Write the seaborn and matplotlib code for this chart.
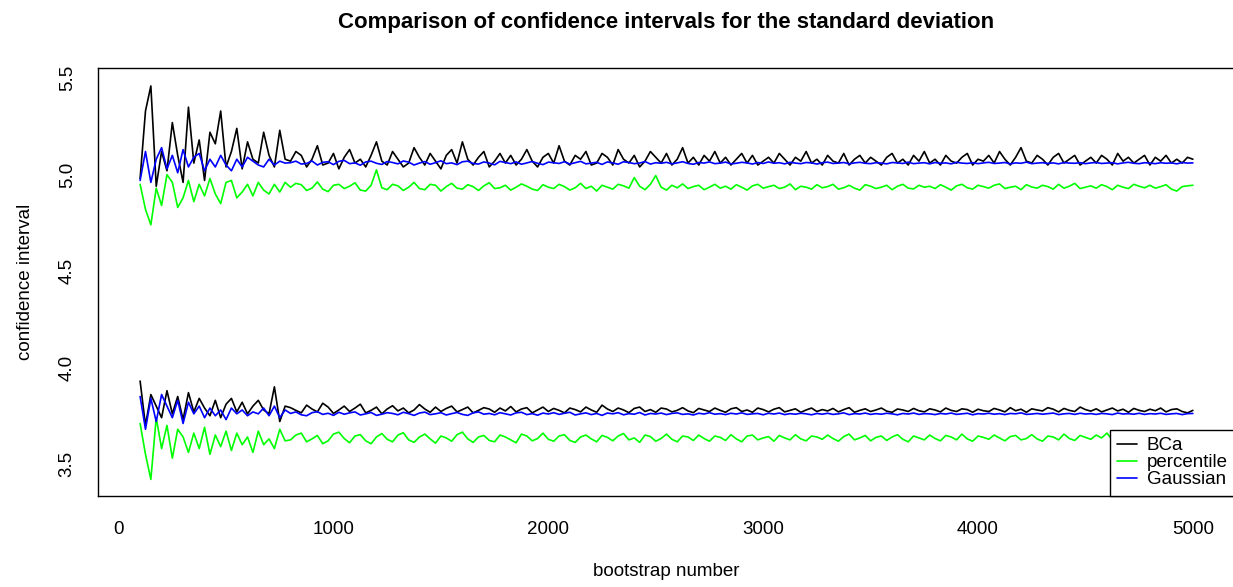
import seaborn as sns
import matplotlib
matplotlib.use("Agg")
import matplotlib.pyplot as plt

# bootstrap numbers (x axis)
boot = list(range(100, 5001, 25))

# upper / lower bounds of the interval for each method
bca_upper = [
    4.98, 5.33, 5.46, 4.94, 5.12, 5.02, 5.27, 5.10, 4.96, 5.35,
    5.06, 5.18, 4.97, 5.22, 5.16, 5.33, 5.04, 5.12, 5.24, 5.03,
    5.17, 5.08, 5.06, 5.22, 5.10, 5.04, 5.23, 5.08,
    5.07, 5.12, 5.10, 5.04, 5.08, 5.15, 5.05, 5.06, 5.11, 5.03,
    5.09, 5.13, 5.06, 5.08, 5.04, 5.10, 5.17, 5.07, 5.05, 5.12,
    5.08, 5.04, 5.06, 5.14, 5.09, 5.05, 5.11, 5.07, 5.03, 5.10,
    5.13, 5.06, 5.17, 5.08, 5.05, 5.09, 5.12, 5.04, 5.07, 5.11,
    5.06, 5.10, 5.05, 5.08, 5.13, 5.07, 5.04, 5.09, 5.11, 5.06,
    5.15, 5.07, 5.05, 5.10, 5.08, 5.12, 5.05, 5.06, 5.11, 5.09,
    5.05, 5.13, 5.08, 5.06, 5.10, 5.04, 5.07, 5.12, 5.09, 5.06,
    5.11, 5.05, 5.08, 5.14, 5.06, 5.09, 5.05, 5.10, 5.07, 5.12,
    5.06, 5.09, 5.05, 5.08, 5.11, 5.06, 5.10, 5.05, 5.07, 5.09,
    5.06, 5.11, 5.08, 5.05, 5.09, 5.07, 5.12, 5.06, 5.08, 5.05,
    5.10, 5.07, 5.06, 5.11, 5.05, 5.08, 5.10, 5.06, 5.09, 5.07,
    5.05, 5.09, 5.11, 5.06, 5.08, 5.05, 5.10, 5.07, 5.12, 5.06,
    5.08, 5.05, 5.10, 5.07, 5.06, 5.09, 5.11, 5.05, 5.08, 5.07,
    5.10, 5.06, 5.12, 5.08, 5.05, 5.09, 5.14, 5.07, 5.06, 5.10,
    5.08, 5.05, 5.09, 5.11, 5.06, 5.08, 5.10, 5.05, 5.07, 5.09,
    5.06, 5.10, 5.08, 5.05, 5.11, 5.07, 5.09, 5.06, 5.08, 5.10,
    5.05, 5.09, 5.07, 5.10, 5.06, 5.08, 5.06, 5.09, 5.08,
]
bca_lower = [
    3.93, 3.70, 3.86, 3.80, 3.74, 3.88, 3.76, 3.85, 3.73, 3.87,
    3.77, 3.84, 3.79, 3.75, 3.83, 3.74, 3.81, 3.84, 3.77, 3.82,
    3.76, 3.80, 3.83, 3.78, 3.76, 3.90, 3.72, 3.80,
    3.792, 3.778, 3.765, 3.805, 3.785, 3.770, 3.815, 3.795, 3.762, 3.780,
    3.800, 3.772, 3.790, 3.810, 3.765, 3.778, 3.795, 3.760, 3.785, 3.802,
    3.775, 3.790, 3.765, 3.780, 3.808, 3.785, 3.768, 3.795, 3.772, 3.788,
    3.800, 3.770, 3.782, 3.795, 3.765, 3.778, 3.792, 3.785, 3.768, 3.790,
    3.775, 3.798, 3.770, 3.785, 3.792, 3.765, 3.780, 3.795, 3.772, 3.788,
    3.778, 3.765, 3.790, 3.782, 3.770, 3.795, 3.780, 3.768, 3.805, 3.785,
    3.772, 3.790, 3.780, 3.766, 3.788, 3.795, 3.772, 3.782, 3.768, 3.790,
    3.785, 3.770, 3.778, 3.792, 3.775, 3.766, 3.788, 3.780, 3.772, 3.790,
    3.778, 3.768, 3.786, 3.792, 3.772, 3.780, 3.768, 3.790, 3.782, 3.770,
    3.784, 3.792, 3.770, 3.778, 3.786, 3.768, 3.780, 3.790, 3.772, 3.782,
    3.775, 3.788, 3.770, 3.782, 3.792, 3.768, 3.778, 3.786, 3.772, 3.780,
    3.790, 3.774, 3.768, 3.785, 3.780, 3.772, 3.788, 3.776, 3.770, 3.786,
    3.780, 3.770, 3.790, 3.778, 3.772, 3.786, 3.782, 3.768, 3.784, 3.776,
    3.772, 3.788, 3.780, 3.770, 3.792, 3.776, 3.784, 3.768, 3.786, 3.780,
    3.775, 3.792, 3.784, 3.770, 3.788, 3.778, 3.772, 3.795, 3.782, 3.774,
    3.786, 3.770, 3.780, 3.790, 3.775, 3.784, 3.768, 3.788, 3.778, 3.772,
    3.784, 3.776, 3.790, 3.770, 3.782, 3.786, 3.772, 3.765, 3.778,
]
perc_upper = [
    4.95, 4.82, 4.74, 4.93, 4.84, 5.00, 4.96, 4.83, 4.88, 4.97,
    4.86, 4.95, 4.89, 4.98, 4.90, 4.85, 4.96, 4.97, 4.88, 4.91,
    4.95, 4.89, 4.96, 4.92, 4.90, 4.95, 4.91, 4.96,
    4.935, 4.955, 4.948, 4.918, 4.930, 4.962, 4.925, 4.912, 4.945, 4.950,
    4.928, 4.940, 4.958, 4.920, 4.915, 4.945, 5.025, 4.932, 4.922, 4.950,
    4.942, 4.918, 4.935, 4.960, 4.928, 4.922, 4.950, 4.945, 4.915, 4.938,
    4.955, 4.930, 4.925, 4.948, 4.938, 4.918, 4.942, 4.958, 4.928, 4.932,
    4.945, 4.920, 4.935, 4.952, 4.940, 4.925, 4.918, 4.948, 4.935, 4.928,
    4.950, 4.938, 4.920, 4.932, 4.955, 4.928, 4.940, 4.915, 4.945, 4.935,
    4.925, 4.950, 4.942, 4.930, 4.985, 4.940, 4.922, 4.950, 4.995, 4.935,
    4.920, 4.945, 4.932, 4.952, 4.928, 4.938, 4.945, 4.922, 4.935, 4.950,
    4.930, 4.940, 4.925, 4.948, 4.935, 4.920, 4.942, 4.950, 4.930, 4.938,
    4.945, 4.928, 4.935, 4.952, 4.922, 4.940, 4.935, 4.925, 4.948, 4.932,
    4.938, 4.950, 4.925, 4.932, 4.945, 4.930, 4.920, 4.948, 4.940, 4.928,
    4.935, 4.945, 4.922, 4.940, 4.950, 4.930, 4.926, 4.945, 4.935, 4.940,
    4.928, 4.948, 4.935, 4.920, 4.942, 4.950, 4.932, 4.925, 4.945, 4.938,
    4.930, 4.945, 4.952, 4.928, 4.935, 4.940, 4.922, 4.948, 4.936, 4.930,
    4.945, 4.938, 4.925, 4.950, 4.930, 4.940, 4.955, 4.928, 4.935, 4.942,
    4.930, 4.948, 4.938, 4.922, 4.945, 4.935, 4.928, 4.950, 4.940, 4.932,
    4.945, 4.930, 4.938, 4.948, 4.925, 4.915, 4.938, 4.942, 4.945,
]
perc_lower = [
    3.71, 3.55, 3.42, 3.74, 3.58, 3.70, 3.53, 3.68, 3.64, 3.56,
    3.66, 3.58, 3.69, 3.55, 3.65, 3.59, 3.67, 3.57, 3.66, 3.60,
    3.64, 3.56, 3.67, 3.60, 3.63, 3.58, 3.68, 3.62,
    3.625, 3.650, 3.660, 3.615, 3.630, 3.648, 3.605, 3.620, 3.655, 3.665,
    3.632, 3.610, 3.645, 3.652, 3.620, 3.605, 3.640, 3.658, 3.628, 3.615,
    3.650, 3.662, 3.625, 3.612, 3.640, 3.655, 3.630, 3.608, 3.645, 3.635,
    3.618, 3.652, 3.665, 3.630, 3.612, 3.640, 3.648, 3.622, 3.615, 3.650,
    3.640, 3.625, 3.610, 3.655, 3.645, 3.620, 3.632, 3.660, 3.628, 3.618,
    3.645, 3.652, 3.622, 3.612, 3.640, 3.650, 3.630, 3.615, 3.648, 3.638,
    3.620, 3.645, 3.658, 3.625, 3.635, 3.612, 3.650, 3.642, 3.618, 3.632,
    3.655, 3.628, 3.615, 3.645, 3.640, 3.622, 3.650, 3.632, 3.618, 3.645,
    3.638, 3.622, 3.652, 3.630, 3.615, 3.645, 3.650, 3.625, 3.635, 3.642,
    3.618, 3.648, 3.635, 3.625, 3.652, 3.630, 3.620, 3.645, 3.640, 3.628,
    3.650, 3.632, 3.618, 3.642, 3.655, 3.625, 3.635, 3.648, 3.620, 3.638,
    3.645, 3.622, 3.640, 3.652, 3.628, 3.615, 3.645, 3.635, 3.625, 3.650,
    3.632, 3.620, 3.648, 3.640, 3.625, 3.655, 3.630, 3.618, 3.645, 3.638,
    3.628, 3.650, 3.635, 3.620, 3.642, 3.648, 3.625, 3.632, 3.652, 3.630,
    3.618, 3.645, 3.640, 3.625, 3.655, 3.632, 3.622, 3.648, 3.638, 3.628,
    3.650, 3.635, 3.660, 3.625, 3.642, 3.648, 3.620, 3.655, 3.640, 3.632,
    3.648, 3.630, 3.652, 3.640, 3.625, 3.655, 3.638, 3.645, 3.650,
]
gauss_upper = [
    4.97, 5.12, 4.96, 5.08, 5.14, 5.03, 5.10, 5.01, 5.13, 5.04,
    5.09, 5.11, 5.02, 5.08, 5.04, 5.10, 5.05, 5.02, 5.08, 5.04,
    5.09, 5.07, 5.05, 5.04, 5.08, 5.05, 5.07, 5.06,
    5.062, 5.070, 5.055, 5.058, 5.071, 5.050, 5.064, 5.067, 5.052, 5.069,
    5.074, 5.057, 5.061, 5.049, 5.066, 5.070, 5.059, 5.053, 5.068, 5.063,
    5.056, 5.071, 5.065, 5.050, 5.060, 5.068, 5.054, 5.062, 5.072, 5.057,
    5.061, 5.052, 5.067, 5.070, 5.058, 5.055, 5.066, 5.060, 5.051, 5.069,
    5.063, 5.057, 5.066, 5.054, 5.061, 5.068, 5.059, 5.052, 5.065, 5.062,
    5.058, 5.067, 5.055, 5.062, 5.069, 5.056, 5.060, 5.064, 5.053, 5.066,
    5.061, 5.054, 5.067, 5.063, 5.057, 5.060, 5.068, 5.055, 5.062, 5.059,
    5.064, 5.056, 5.061, 5.067, 5.058, 5.054, 5.063, 5.060, 5.066, 5.057,
    5.060, 5.065, 5.056, 5.059, 5.064, 5.061, 5.055, 5.063, 5.058, 5.066,
    5.059, 5.062, 5.056, 5.064, 5.060, 5.057, 5.063, 5.061, 5.055, 5.062,
    5.065, 5.058, 5.060, 5.063, 5.056, 5.061, 5.064, 5.059, 5.057, 5.062,
    5.060, 5.056, 5.063, 5.061, 5.058, 5.065, 5.057, 5.060, 5.062, 5.056,
    5.063, 5.059, 5.061, 5.056, 5.064, 5.060, 5.058, 5.062, 5.057, 5.061,
    5.064, 5.058, 5.060, 5.063, 5.056, 5.061, 5.059, 5.065, 5.057, 5.060,
    5.062, 5.058, 5.061, 5.056, 5.063, 5.060, 5.059, 5.062, 5.057, 5.061,
    5.063, 5.058, 5.060, 5.062, 5.056, 5.061, 5.064, 5.059, 5.057, 5.062,
    5.060, 5.057, 5.062, 5.059, 5.061, 5.056, 5.063, 5.060, 5.061,
]
gauss_lower = [
    3.85, 3.68, 3.84, 3.72, 3.86, 3.80, 3.74, 3.83, 3.71, 3.82,
    3.76, 3.80, 3.74, 3.79, 3.75, 3.78, 3.73, 3.79, 3.76, 3.78,
    3.75, 3.77, 3.76, 3.79, 3.75, 3.80, 3.74, 3.78,
    3.762, 3.770, 3.755, 3.750, 3.766, 3.771, 3.757, 3.763, 3.752, 3.768,
    3.758, 3.765, 3.770, 3.754, 3.760, 3.767, 3.752, 3.758, 3.766, 3.762,
    3.755, 3.768, 3.761, 3.752, 3.764, 3.769, 3.756, 3.760, 3.766, 3.754,
    3.761, 3.767, 3.757, 3.752, 3.765, 3.770, 3.758, 3.762, 3.755, 3.766,
    3.760, 3.754, 3.765, 3.768, 3.756, 3.761, 3.753, 3.764, 3.759, 3.766,
    3.757, 3.763, 3.768, 3.754, 3.760, 3.765, 3.756, 3.762, 3.752, 3.764,
    3.760, 3.766, 3.755, 3.761, 3.758, 3.767, 3.754, 3.762, 3.759, 3.764,
    3.756, 3.762, 3.765, 3.757, 3.760, 3.754, 3.763, 3.759, 3.766, 3.758,
    3.761, 3.756, 3.763, 3.759, 3.765, 3.757, 3.760, 3.762, 3.755, 3.763,
    3.759, 3.764, 3.756, 3.761, 3.758, 3.763, 3.760, 3.755, 3.762, 3.758,
    3.763, 3.757, 3.760, 3.765, 3.756, 3.761, 3.759, 3.764, 3.757, 3.761,
    3.758, 3.763, 3.760, 3.755, 3.762, 3.759, 3.764, 3.757, 3.761, 3.760,
    3.756, 3.762, 3.759, 3.764, 3.757, 3.760, 3.763, 3.755, 3.761, 3.759,
    3.763, 3.758, 3.761, 3.756, 3.762, 3.760, 3.765, 3.757, 3.759, 3.762,
    3.758, 3.761, 3.764, 3.756, 3.760, 3.762, 3.757, 3.763, 3.759, 3.761,
    3.757, 3.762, 3.760, 3.756, 3.764, 3.759, 3.761, 3.758, 3.763, 3.757,
    3.761, 3.759, 3.763, 3.757, 3.760, 3.762, 3.756, 3.761, 3.762,
]

methods = ["BCa", "percentile", "Gaussian"]
colors = ["black", "#00ff00", "#0000ff"]
series = [(bca_upper, bca_lower), (perc_upper, perc_lower), (gauss_upper, gauss_lower)]

x_ticks = [0, 1000, 2000, 3000, 4000, 5000]
y_ticks = [3.5, 4.0, 4.5, 5.0, 5.5]
y_tick_labels = ["3.5", "4.0", "4.5", "5.0", "5.5"]

sns.set_style("white")
plt.rcParams["font.family"] = ["Liberation Sans", "DejaVu Sans"]
plt.rcParams["font.size"] = 13.5
plt.rcParams["text.color"] = "black"
plt.rcParams["axes.labelcolor"] = "black"
plt.rcParams["xtick.color"] = "black"
plt.rcParams["ytick.color"] = "black"

fig = plt.figure(figsize=(12.33, 5.87), dpi=100)
ax = fig.add_axes([98 / 1233, 91 / 587, 1137 / 1233, 428 / 587])

for name, col, (hi, lo) in zip(methods, colors, series):
    sns.lineplot(x=boot, y=hi, color=col, lw=1.2, ax=ax, label=name)
    sns.lineplot(x=boot, y=lo, color=col, lw=1.2, ax=ax, label="_nolegend_")

ax.set_xlim(-96, 5196)
ax.set_ylim(3.334, 5.553)
ax.set_xticks(x_ticks)
ax.set_xticklabels([str(t) for t in x_ticks])
ax.set_yticks(y_ticks)
ax.set_yticklabels(y_tick_labels, rotation=90, va="center")
ax.tick_params(axis="both", direction="out", length=8, width=0.8,
               colors="black", labelsize=13.5)
ax.tick_params(axis="x", pad=10)
ax.tick_params(axis="y", pad=8)

for sp in ax.spines.values():
    sp.set_color("black")
    sp.set_linewidth(1.0)

ax.set_title("Comparison of confidence intervals for the standard deviation",
             fontsize=16, fontweight="bold", color="black", pad=29)
ax.set_xlabel("bootstrap number", fontsize=13.5, labelpad=18)
ax.set_ylabel("confidence interval", fontsize=13.5, labelpad=17.5)

leg = ax.legend(loc="lower right", borderaxespad=0, fancybox=False,
                framealpha=1, edgecolor="black", fontsize=13.5,
                handlelength=1.05, handletextpad=0.5, labelspacing=0.0,
                borderpad=0.4)
leg.get_frame().set_linewidth(1.0)
for t in leg.get_texts():
    t.set_color("black")

fig.savefig("out.png", dpi=100)
